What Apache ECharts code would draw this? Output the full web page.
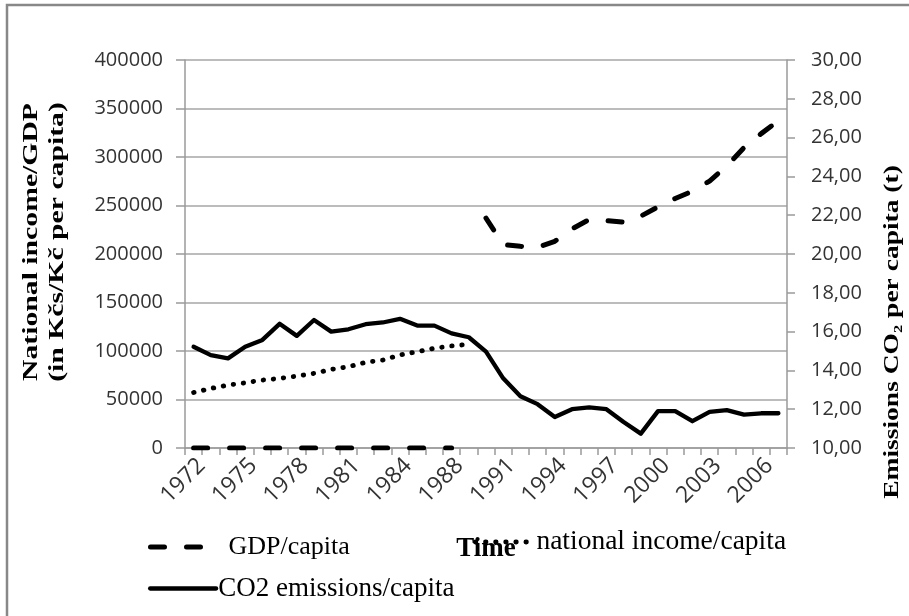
<!DOCTYPE html>
<html>
<head>
<meta charset="utf-8">
<script src="https://cdn.jsdelivr.net/npm/echarts@6/dist/echarts.min.js"></script>
<style>
html,body{margin:0;padding:0;background:#fff;}
#c{width:909px;height:616px;}
</style>
</head>
<body>
<div id="c"></div>
<script>
// Categories (one year between 1984 and 1988 is absent in the source axis)
var years = ['1972','1973','1974','1975','1976','1977','1978','1979','1980','1981','1982','1983','1984','1985','1986','1988','1989','1990','1991','1992','1993','1994','1995','1996','1997','1998','1999','2000','2001','2002','2003','2004','2005','2006','2007'];

// GDP per capita (Kč) – zero placeholders before 1990, gap in 1989
var gdpPerCapita = [0,0,0,0,0,0,0,0,0,0,0,0,0,0,0,0,null,237000,209700,207900,206900,213100,225900,235500,234500,232800,239000,248600,257200,264800,275200,290700,309700,324100,337200];

// National income per capita (Kčs)
var nationalIncomePerCapita = [57200,61400,64800,67200,70000,71700,74100,76900,81000,83800,88300,90700,95900,99300,102800,105200,106900,null,null,null,null,null,null,null,null,null,null,null,null,null,null,null,null,null,null];

// CO2 emissions per capita (t)
var co2PerCapita = [15.22,14.79,14.62,15.22,15.57,16.40,15.78,16.60,16.00,16.12,16.38,16.47,16.66,16.31,16.31,15.91,15.71,14.97,13.59,12.67,12.26,11.60,12.00,12.09,12.00,11.34,10.74,11.90,11.90,11.38,11.86,11.95,11.72,11.79,11.79];

var leftTicks = {min:0, max:400000, interval:50000};
var rightTicks = {min:10, max:30, interval:2};

var chart = echarts.init(document.getElementById('c'), null, {renderer:'canvas'});
var tickFont = 'Open Sans';
var serif = 'Liberation Serif';
var axisGray = '#9a9a9a';
var noMarker = {color:'rgba(0,0,0,0)', borderWidth:0};
var gdpDash = {color:'#000', width:5, type:[14,22], cap:'round'};
var dotStyle = {color:'#000', width:4.8, type:[0.5,9.6], cap:'round'};
var solidStyle = {color:'#000', width:4.3, join:'round', cap:'round', type:'solid'};

chart.setOption({
  animation:false,
  backgroundColor:'#ffffff',
  grid:{left:185, right:122, top:60, bottom:168, containLabel:false},
  xAxis:{
    type:'category', data:years, boundaryGap:true,
    name:'Time', nameLocation:'middle', nameGap:88,
    nameTextStyle:{fontFamily:serif, fontWeight:'bold', fontSize:27, color:'#000'},
    axisLine:{lineStyle:{color:axisGray, width:1.5}},
    axisTick:{show:true, interval:0, length:7, lineStyle:{color:axisGray, width:1.5}},
    axisLabel:{interval:2, rotate:45, margin:6, verticalAlign:'top', fontFamily:tickFont, fontSize:23, color:'#333'}
  },
  yAxis:[{
    type:'value', min:leftTicks.min, max:leftTicks.max, interval:leftTicks.interval,
    axisLine:{show:true, lineStyle:{color:axisGray, width:1.5}},
    axisTick:{show:true, length:9, lineStyle:{color:axisGray, width:1.5}},
    axisLabel:{margin:22, fontFamily:tickFont, fontSize:20, color:'#333',
      formatter:function(v){return String(v);}},
    splitLine:{show:true, lineStyle:{color:'#a6a6a6', width:1.5}}
  },{
    type:'value', position:'right', min:rightTicks.min, max:rightTicks.max, interval:rightTicks.interval,
    axisLine:{show:true, lineStyle:{color:axisGray, width:1.5}},
    axisTick:{show:true, length:8, lineStyle:{color:axisGray, width:1.5}},
    axisLabel:{margin:24, fontFamily:tickFont, fontSize:20, color:'#333',
      formatter:function(v){return v.toFixed(2).replace('.',',');}},
    splitLine:{show:false}
  }],
  legend:[{
    data:['GDP/capita'], left:143, top:529, itemWidth:55, itemHeight:14,
    itemStyle:noMarker, lineStyle:gdpDash,
    textStyle:{fontFamily:serif, fontSize:26, color:'#000', padding:[0,0,0,18]}
  },{
    data:['national income/capita'], left:468, top:523, itemWidth:56, itemHeight:14,
    itemStyle:noMarker, lineStyle:dotStyle,
    textStyle:{fontFamily:serif, fontSize:27.5, color:'#000', padding:[3,0,0,0]}
  },{
    data:['CO2 emissions/capita'], left:143, top:570, itemWidth:66, itemHeight:14,
    itemStyle:noMarker, lineStyle:solidStyle,
    textStyle:{fontFamily:serif, fontSize:27, color:'#000', padding:[0,0,0,-3]}
  }],
  series:[{
    name:'GDP/capita', type:'line', yAxisIndex:0, data:gdpPerCapita,
    symbol:'none', connectNulls:false, z:3, itemStyle:noMarker,
    lineStyle:gdpDash
  },{
    name:'national income/capita', type:'line', yAxisIndex:0, data:nationalIncomePerCapita,
    symbol:'none', connectNulls:false, z:2, itemStyle:noMarker,
    lineStyle:dotStyle
  },{
    name:'CO2 emissions/capita', type:'line', yAxisIndex:1, data:co2PerCapita,
    symbol:'none', z:4, itemStyle:noMarker,
    lineStyle:solidStyle
  }],
  graphic:[{
    type:'rect', silent:true, z:-1,
    shape:{x:7, y:5, width:1200, height:1200},
    style:{fill:null, stroke:'#888', lineWidth:2.5}
  },{
    type:'text', silent:true,
    x:44, y:242, rotation:Math.PI/2, scaleX:1.35, scaleY:1,
    style:{text:'National income/GDP\n(in Kčs/Kč per capita)', font:'bold 22px "Liberation Serif"',
      fill:'#000', align:'center', verticalAlign:'middle', lineHeight:26}
  },{
    type:'text', silent:true,
    x:892, y:332, rotation:Math.PI/2, scaleX:1.25, scaleY:1,
    style:{text:'Emissions CO₂ per capita (t)', font:'bold 22px "Liberation Serif"',
      fill:'#000', align:'center', verticalAlign:'middle'}
  }]
});
</script>
</body>
</html>
